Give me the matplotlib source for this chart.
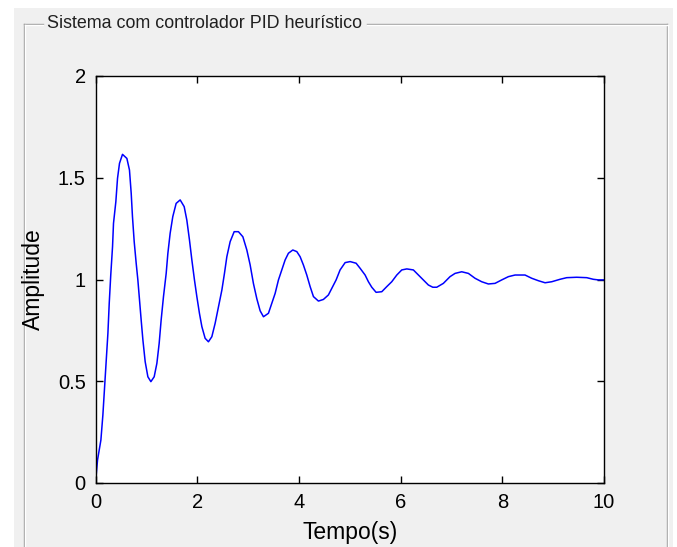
import matplotlib
matplotlib.use("Agg")
import matplotlib.pyplot as plt
from matplotlib.patches import Rectangle
from matplotlib.lines import Line2D

# step response
tempo = [0.0, 0.04, 0.106, 0.145, 0.177, 0.21, 0.244, 0.27, 0.30, 0.335, 0.354, 0.40,
         0.433, 0.472, 0.531, 0.617, 0.668, 0.702, 0.727, 0.761, 0.80, 0.833, 0.865,
         0.898, 0.932, 0.977, 1.03, 1.089, 1.154, 1.207, 1.252, 1.291, 1.337, 1.39,
         1.423, 1.468, 1.52, 1.586, 1.665, 1.744, 1.796, 1.848, 1.895, 1.946, 1.993,
         2.044, 2.092, 2.156, 2.221, 2.288, 2.353, 2.418, 2.485, 2.536, 2.583, 2.648,
         2.727, 2.811, 2.898, 2.976, 3.041, 3.106, 3.173, 3.238, 3.303, 3.401, 3.468,
         3.533, 3.598, 3.664, 3.729, 3.794, 3.880, 3.959, 4.024, 4.089, 4.155, 4.221,
         4.286, 4.384, 4.482, 4.580, 4.647, 4.732, 4.81, 4.909, 5.007, 5.125, 5.204,
         5.302, 5.367, 5.433, 5.518, 5.630, 5.728, 5.826, 5.925, 6.023, 6.122, 6.251,
         6.350, 6.448, 6.546, 6.633, 6.711, 6.841, 6.972, 7.071, 7.202, 7.333, 7.464,
         7.595, 7.726, 7.857, 7.989, 8.120, 8.251, 8.447, 8.579, 8.710, 8.841, 8.972,
         9.135, 9.267, 9.463, 9.660, 9.790, 9.889, 10.0]
amplitude = [0.0, 0.113, 0.211, 0.334, 0.465, 0.596, 0.736, 0.883, 1.022, 1.161, 1.276,
             1.382, 1.497, 1.571, 1.615, 1.595, 1.538, 1.424, 1.309, 1.186, 1.080, 0.998,
             0.899, 0.801, 0.703, 0.596, 0.522, 0.498, 0.522, 0.588, 0.686, 0.801, 0.916,
             1.030, 1.128, 1.227, 1.309, 1.374, 1.391, 1.358, 1.292, 1.194, 1.096, 0.998,
             0.916, 0.834, 0.768, 0.711, 0.694, 0.719, 0.785, 0.866, 0.948, 1.030, 1.112,
             1.186, 1.235, 1.235, 1.210, 1.145, 1.072, 0.980, 0.905, 0.846, 0.817, 0.834,
             0.883, 0.932, 0.998, 1.047, 1.096, 1.129, 1.145, 1.137, 1.112, 1.071, 1.022,
             0.965, 0.916, 0.894, 0.902, 0.924, 0.957, 0.998, 1.047, 1.083, 1.088, 1.080,
             1.055, 1.022, 0.989, 0.962, 0.937, 0.940, 0.965, 0.989, 1.022, 1.047, 1.052,
             1.047, 1.022, 0.998, 0.973, 0.962, 0.962, 0.981, 1.014, 1.030, 1.038, 1.030,
             1.006, 0.989, 0.978, 0.981, 0.998, 1.014, 1.022, 1.022, 1.006, 0.994, 0.984,
             0.989, 1.001, 1.009, 1.011, 1.009, 1.001, 0.998, 0.998]

xticks = [0, 2, 4, 6, 8, 10]
yticks = [0, 0.5, 1, 1.5, 2]
ytick_labels = ["0", "0.5", "1", "1.5", "2"]

W, H = 677, 547
plt.rcParams['font.family'] = ['Liberation Sans', 'DejaVu Sans']

fig = plt.figure(figsize=(W / 100, H / 100), dpi=100)
fig.patch.set_facecolor('white')

def fx(p):
    return p / W

def fy(p):
    return 1 - p / H

# gray panel behind everything
fig.patches.append(Rectangle((fx(14), 0), fx(673) - fx(14), fy(8),
                             transform=fig.transFigure, facecolor='#f0f0f0',
                             edgecolor='none', zorder=-5))

# group box frame (etched look: dark line + white line)
for off, col in [(0, '#a0a0a0'), (1, 'white')]:
    segs = [([24 + off, 24 + off], [24 + off, H]),
            ([24 + off, 43], [24 + off, 24 + off]),
            ([367, 667 + off], [24 + off, 24 + off]),
            ([667 + off, 667 + off], [24 + off, H])]
    for xs, ys in segs:
        fig.add_artist(Line2D([fx(v) for v in xs], [fy(v) for v in ys],
                              transform=fig.transFigure, color=col, lw=1))

fig.text(fx(47), fy(23), "Sistema com controlador PID heurístico",
         fontsize=12.9, va='center', ha='left', color='#202020')

ax = fig.add_axes([fx(95.5), fy(483), fx(604) - fx(95.5), fy(76) - fy(483)])
ax.set_zorder(2)
ax.plot(tempo, amplitude, color='#0000ff', lw=1.1)
ax.set_xlim(0, 10)
ax.set_ylim(0, 2)
ax.set_xticks(xticks)
ax.set_yticks(yticks)
ax.set_yticklabels(ytick_labels)
ax.tick_params(direction='in', length=5, width=1, top=True, right=True,
               labelsize=14.5, colors='black')
ax.tick_params(axis='x', pad=7)
ax.tick_params(axis='y', pad=7)
for s in ax.spines.values():
    s.set_linewidth(1)
    s.set_color('black')
ax.set_xlabel("Tempo(s)", fontsize=16.5, labelpad=7)
ax.set_ylabel("Amplitude", fontsize=16.5, labelpad=9)

fig.savefig("out.png", dpi=100)
